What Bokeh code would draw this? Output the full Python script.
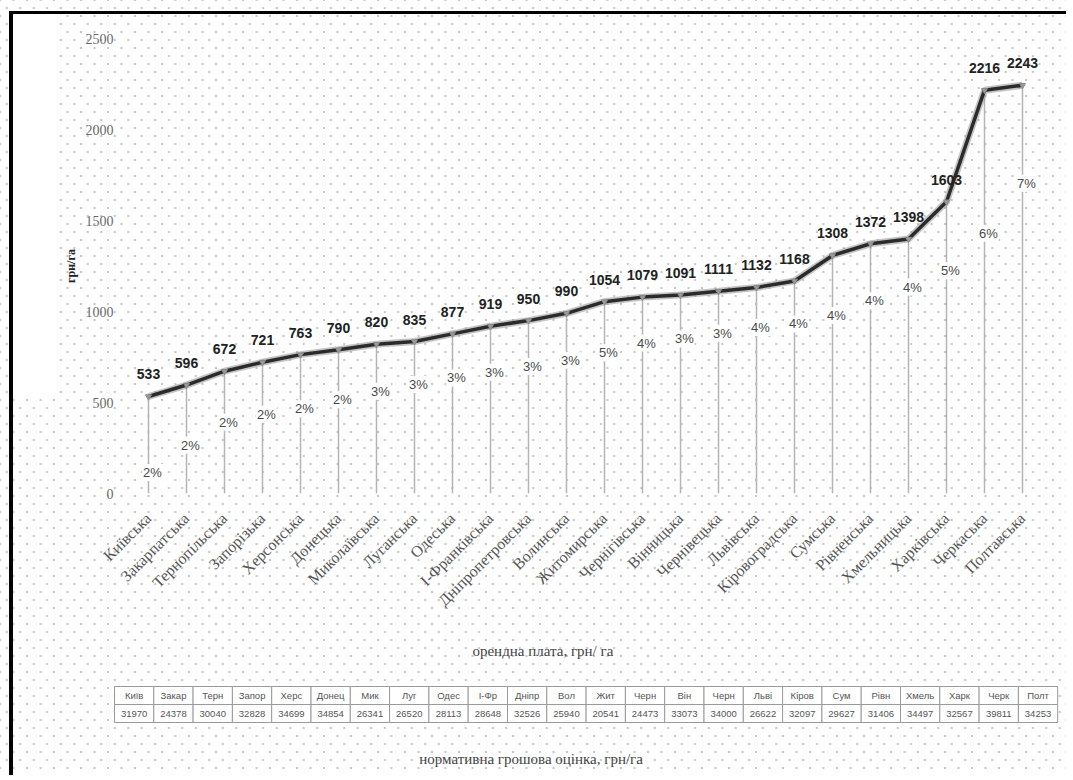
import math
from bokeh.plotting import figure
from bokeh.models import ColumnDataSource, Range1d, FactorRange, FixedTicker, Text
from bokeh.layouts import column
from bokeh.core.properties import value
from bokeh.embed import file_html
from bokeh.resources import INLINE

# ---------------- data ----------------
regions = ["Київська", "Закарпатська", "Тернопільська", "Запорізька", "Херсонська",
           "Донецька", "Миколаївська", "Луганська", "Одеська", "І-Франківська",
           "Дніпропетровська", "Волинська", "Житомирська", "Чернігівська", "Вінницька",
           "Чернівецька", "Львівська", "Кіровоградська", "Сумська", "Рівненська",
           "Хмельницька", "Харківська", "Черкаська", "Полтавська"]
rent = [533, 596, 672, 721, 763, 790, 820, 835, 877, 919, 950, 990,
        1054, 1079, 1091, 1111, 1132, 1168, 1308, 1372, 1398, 1603, 2216, 2243]
pct = [2, 2, 2, 2, 2, 2, 3, 3, 3, 3, 3, 3, 5, 4, 3, 3, 4, 4, 4, 4, 4, 5, 6, 7]
table_abbr = ["Київ", "Закар", "Терн", "Запор", "Херс", "Донец", "Мик", "Луг",
              "Одес", "І-Фр", "Дніпр", "Вол", "Жит", "Черн", "Він", "Черн",
              "Льві", "Кіров", "Сум", "Рівн", "Хмель", "Харк", "Черк", "Полт"]
normative = [31970, 24378, 30040, 32828, 34699, 34854, 26341, 26520, 28113, 28648,
             32526, 25940, 20541, 24473, 33073, 34000, 26622, 32097, 29627, 31406,
             34497, 32567, 39811, 34253]
y_ticks = [0, 500, 1000, 1500, 2000, 2500]
x_title = "орендна плата, грн/ га"
y_title = "грн/га"
table_title = "нормативна грошова оцінка, грн/га"

# label placement (pixels below each point) for the percentage labels
pct_offset_px = [76, 60, 51, 52, 54, 50, 47, 43, 44, 46, 46, 47,
                 51, 46, 44, 42, 40, 43, 60, 57, 48, 69, 143, 98]

SERIF = "Liberation Serif"
SANS = "Liberation Sans"

src = ColumnDataSource(dict(
    region=regions, rent=rent, zero=[0] * len(rent),
    rent_lbl=[str(v) for v in rent],
    pct_lbl=[f"{v}%" for v in pct],
    pct_off=pct_offset_px,
))

# ---------------- main chart ----------------
W = 1066
H1 = 630
p1 = figure(width=W, height=H1, x_range=FactorRange(factors=regions, range_padding=0),
            y_range=Range1d(0, 2500), output_backend="svg", toolbar_location=None,
            min_border_left=129, min_border_right=25, min_border_top=38,
            min_border_bottom=137)
p1.border_fill_color = None
p1.background_fill_color = None
p1.outline_line_color = None
p1.xgrid.visible = False
p1.ygrid.visible = False

p1.yaxis.ticker = FixedTicker(ticks=y_ticks)
p1.yaxis.axis_line_color = None
p1.yaxis.major_tick_line_color = None
p1.yaxis.minor_tick_line_color = None
p1.yaxis.major_label_standoff = 10
p1.yaxis.major_label_text_font = SERIF
p1.yaxis.major_label_text_font_size = "14px"
p1.yaxis.major_label_text_color = "#6a6a6a"
p1.yaxis.axis_label = y_title
p1.yaxis.axis_label_text_font = SERIF
p1.yaxis.axis_label_text_font_size = "12px"
p1.yaxis.axis_label_text_font_style = "bold"
p1.yaxis.axis_label_text_color = "#222222"
p1.yaxis.axis_label_standoff = 5

p1.xaxis.axis_line_color = None
p1.xaxis.major_tick_line_color = None
p1.xaxis.minor_tick_line_color = None
p1.xaxis.major_label_orientation = math.pi / 4
p1.xaxis.major_label_standoff = 16
p1.xaxis.major_label_text_font = SERIF
p1.xaxis.major_label_text_font_size = "16px"
p1.xaxis.major_label_text_color = "#555555"

# drop lines
p1.segment(x0="region", y0="zero", x1="region", y1="rent", source=src,
           line_color="#b4b4b4", line_width=1.5)
# main line with soft shadow
p1.line(x="region", y="rent", source=src, line_color="#9c9c9c", line_width=7, line_alpha=0.6)
p1.line(x="region", y="rent", source=src, line_color="#2b2b2b", line_width=3.5)
p1.scatter(x="region", y="rent", source=src, marker="inverted_triangle", size=6,
           fill_color="#9a9a9a", line_color="#8a8a8a")

# value labels
p1.text(x="region", y="rent", text="rent_lbl", source=src, y_offset=-22,
        text_align="center", text_baseline="middle", text_font=value(SANS),
        text_font_size="14px", text_font_style="bold", text_color="#222222")

# percentage labels
extra = {}
if "background_fill_color" in Text.properties():
    extra = dict(background_fill_color="white")
    if "padding" in Text.properties():
        extra["padding"] = 1
p1.text(x="region", y="rent", text="pct_lbl", source=src, y_offset="pct_off", x_offset=4,
        text_align="center", text_baseline="middle", text_font=value(SANS),
        text_font_size="13px", text_color="#4a4a4a", **extra)

# ---------------- lower panel: axis title + table ----------------
H2 = 775 - H1
col_w = 39.3
tbl_left = 114.0  # px from figure left
n = len(regions)
p2 = figure(width=W, height=H2, output_backend="svg", toolbar_location=None,
            x_range=Range1d(-tbl_left / col_w, (W - tbl_left) / col_w),
            y_range=Range1d(H2, 0), x_axis_type=None, y_axis_type=None,
            min_border=0, min_border_left=0, min_border_right=0,
            min_border_top=0, min_border_bottom=0)
p2.border_fill_color = None
p2.background_fill_color = None
p2.outline_line_color = None
p2.xgrid.visible = False
p2.ygrid.visible = False

for fig in (p1, p2):
    if "frame_align" in fig.properties():
        fig.frame_align = False

tsrc = ColumnDataSource(dict(
    xc=[i + 0.5 for i in range(n)],
    abbr=table_abbr,
    norm=[str(v) for v in normative],
    y1=[65] * n, y2=[83] * n,
))
p2.rect(x="xc", y="y1", width=1, height=18, source=tsrc, fill_color="white",
        line_color="#9a9a9a", line_width=1)
p2.rect(x="xc", y="y2", width=1, height=18, source=tsrc, fill_color="white",
        line_color="#9a9a9a", line_width=1)
p2.text(x="xc", y="y1", text="abbr", source=tsrc, text_align="center",
        text_baseline="middle", text_font=value(SANS), text_font_size="9.5px",
        text_color="#555555")
p2.text(x="xc", y="y2", text="norm", source=tsrc, text_align="center",
        text_baseline="middle", text_font=value(SANS), text_font_size="9.5px",
        text_color="#555555")

p2.text(x=[10.9], y=[20], text=[x_title], text_align="center", text_baseline="middle",
        text_font=value(SERIF), text_font_size="15px", text_color="#444444")
p2.text(x=[10.6], y=[128], text=[table_title], text_align="center", text_baseline="middle",
        text_font=value(SERIF), text_font_size="15px", text_color="#444444")

bg = {
    "background-color": "#ffffff",
    "background-image": ("linear-gradient(#000,#000), linear-gradient(#000,#000), "
                         "linear-gradient(#fff,#fff), "
                         "radial-gradient(circle, #c4c4c4 0.8px, rgba(255,255,255,0) 1.3px), "
                         "radial-gradient(circle, #c4c4c4 0.8px, rgba(255,255,255,0) 1.3px)"),
    "background-size": "100% 3px, 4px 100%, 46px 384px, 13.5px 16px, 13.5px 16px",
    "background-position": "9px 11px, 9px 11px, 13px 14px, 0px 0px, 6.75px 8px",
    "background-repeat": "no-repeat, no-repeat, no-repeat, repeat, repeat",
}
layout = column(p1, p2, spacing=0, styles=bg)

open("out.html", "w").write(file_html(layout, INLINE))
